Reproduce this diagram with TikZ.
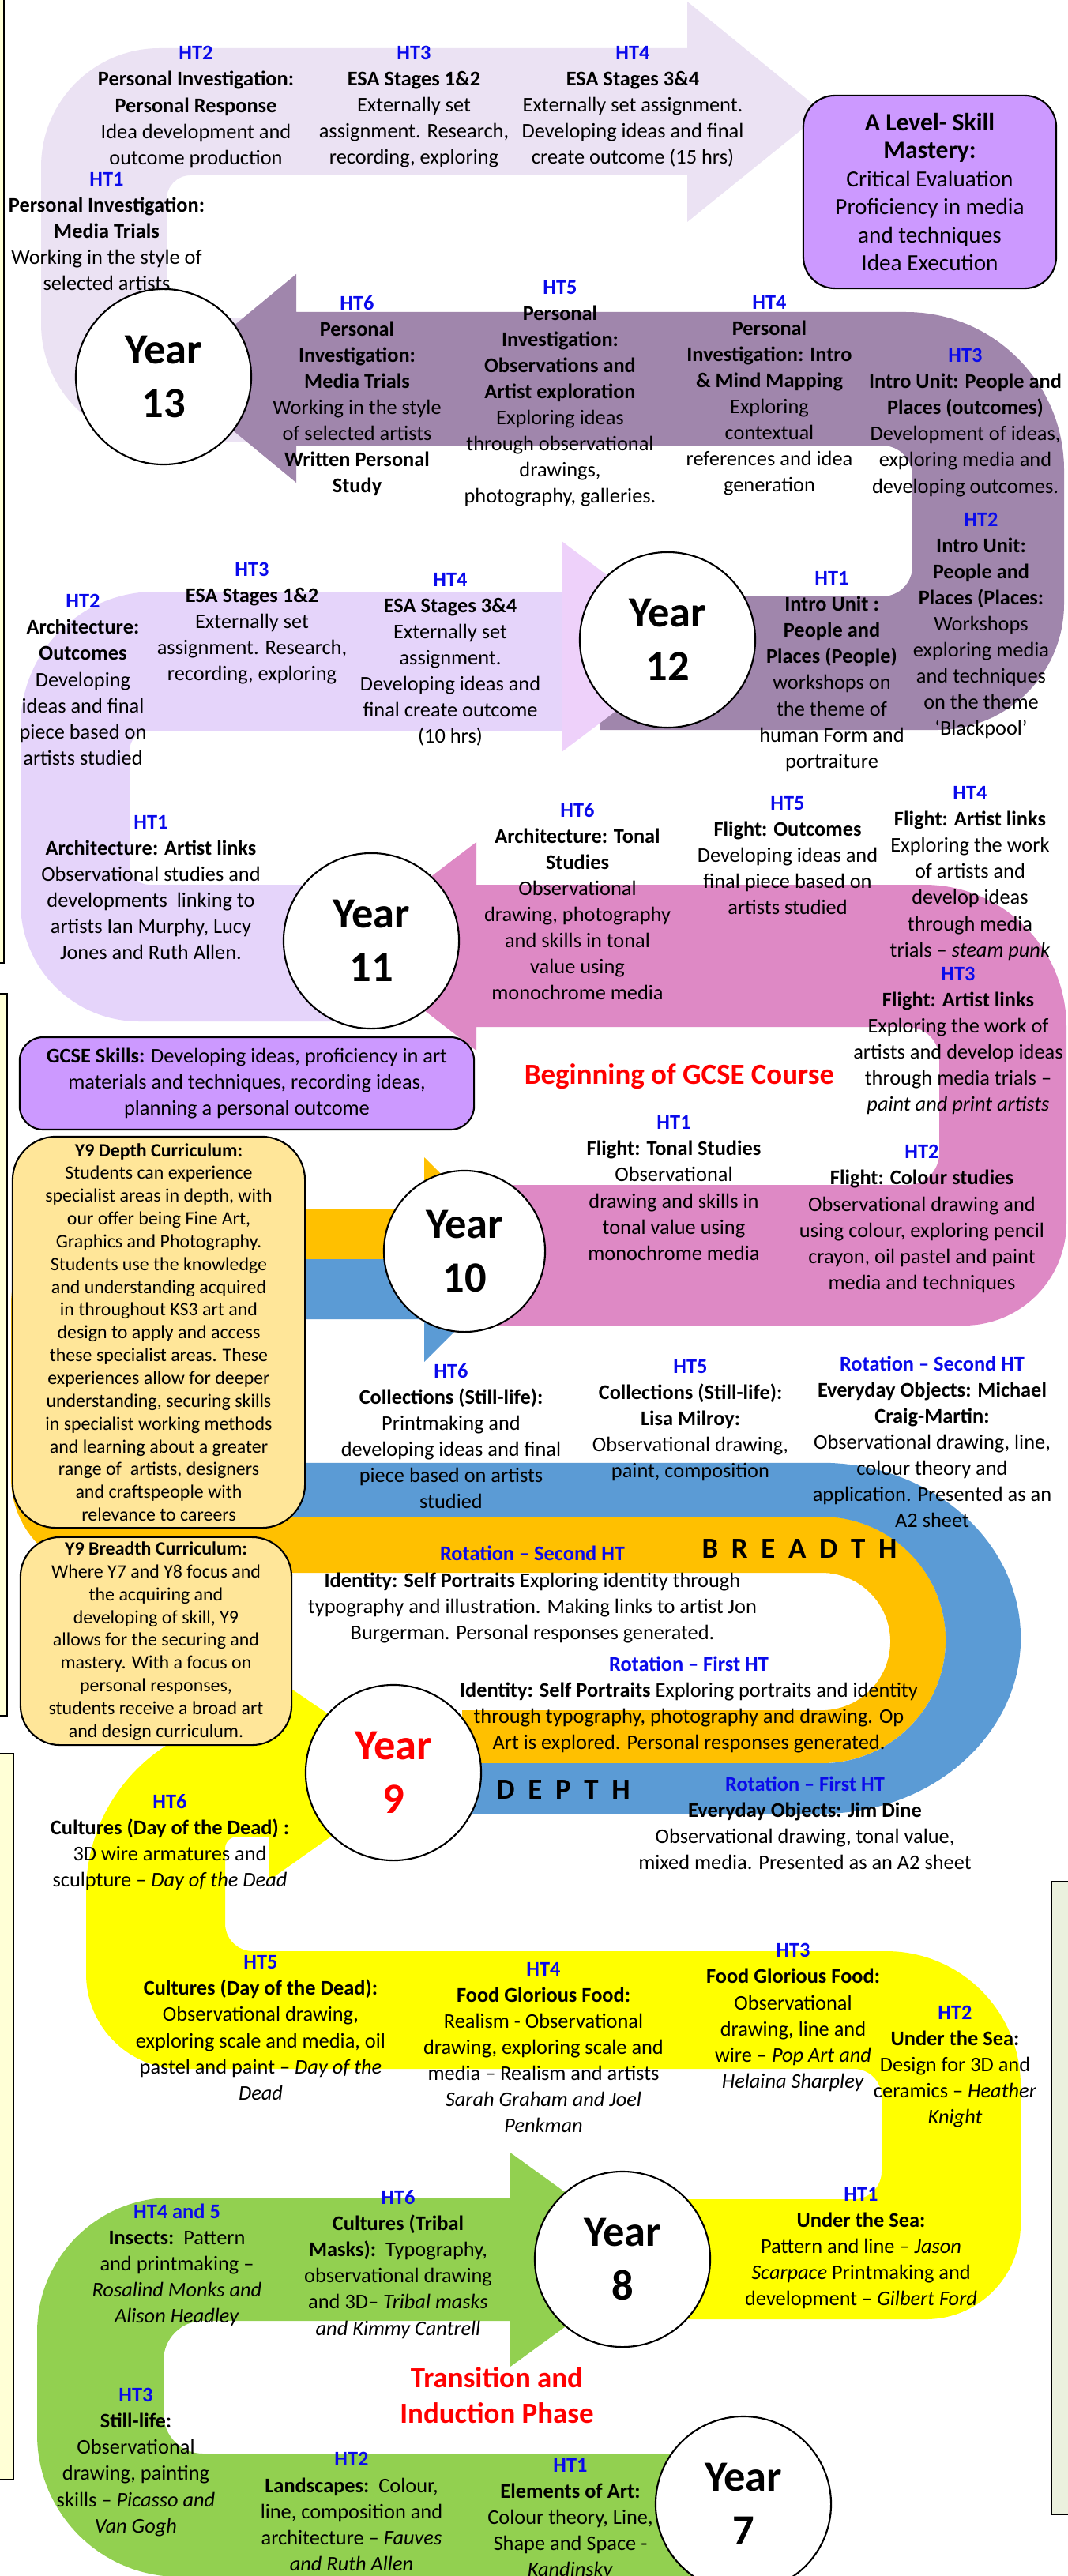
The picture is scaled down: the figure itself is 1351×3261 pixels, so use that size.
\documentclass[tikz,border=0pt]{standalone}
\usepackage{fontspec}
\setmainfont{Carlito}

\definecolor{band13}{RGB}{235,226,243}
\definecolor{band12}{RGB}{160,134,172}
\definecolor{band11}{RGB}{229,212,250}
\definecolor{head11}{RGB}{238,209,250}
\definecolor{band10}{RGB}{222,137,197}
\definecolor{breadthcol}{RGB}{255,192,0}
\definecolor{depthcol}{RGB}{91,155,213}
\definecolor{band8}{RGB}{255,255,0}
\definecolor{band7}{RGB}{146,208,80}
\definecolor{skill}{RGB}{204,153,255}
\definecolor{y9note}{RGB}{255,230,153}
\definecolor{htblue}{RGB}{10,10,235}
\definecolor{gcsered}{RGB}{255,0,0}
\definecolor{sidenote}{RGB}{255,255,214}
\definecolor{sidegreen}{RGB}{235,241,222}

\newcommand{\hterm}[1]{\textcolor{htblue}{\textbf{#1}}}
\newcommand{\boxtitle}[1]{\textbf{\fontsize{9}{10.6}\selectfont #1}}

\tikzset{
  halfterm/.style={align=center, inner sep=0pt, font=\fontsize{7.5}{9.4}\selectfont},
  yearcircle/.style={circle, draw, line width=0.6pt, fill=white, inner sep=0pt, minimum size=2.22cm, align=center, font=\fontsize{15.5}{19.3}\selectfont\bfseries},
  skillbox/.style={draw, line width=0.6pt, fill=skill, rounded corners=0.4cm, inner sep=0pt, align=center},
  notebox/.style={draw, line width=0.6pt, fill=y9note, rounded corners=0.55cm, inner sep=0pt, align=center, font=\fontsize{6.8}{8.2}\selectfont},
  redhead/.style={text=gcsered, align=center, inner sep=0pt, font=\fontsize{10.5}{13}\selectfont\bfseries},
  spaced/.style={inner sep=0pt, font=\fontsize{10.5}{12}\selectfont\bfseries},
  sidebox/.style={draw, line width=0.8pt}
}

\begin{document}
\begin{tikzpicture}[x=0.01cm, y=-0.01cm]
	\useasboundingbox (0,0) rectangle (1351,3261);
	\fill[white] (0,0) rectangle (1351,3261);
	% boxes of the neighbouring columns
	\draw[sidebox, fill=sidenote] (-30,-30) rectangle (5,1219);
	\draw[sidebox, fill=sidenote] (-30,1258) rectangle (9,2172);
	\draw[sidebox, fill=sidenote] (-30,2220) rectangle (17,3139);
	\draw[sidebox, fill=sidegreen] (1331,2382) rectangle (1380,3183);

	% Year 13
	\fill[band13] (400,560) [rounded corners=1.5cm] -- (52,560) -- (52,61) [sharp corners] -- (870,61) -- (870,2) -- (1042,142) -- (870,281) -- (870,222) [rounded corners=0.3cm] -- (211,222) -- (211,403) [sharp corners] -- (400,403) -- cycle;
	% Year 12
	\fill[band12] (760,924) [rounded corners=1.6cm] -- (1347,924) [rounded corners=2cm] -- (1347,395) [sharp corners] -- (375,395) -- (375,347) -- (215,479) -- (375,611) -- (375,564) [rounded corners=0.38cm] -- (1155,564) -- (1155,755) [sharp corners] -- (760,755) -- cycle;
	% Year 11
	\fill[band11] (470,1293) [rounded corners=1.5cm] -- (26,1293) [rounded corners=1.7cm] -- (26,749) [sharp corners] -- (711,749) -- (711,925) [rounded corners=0.25cm] -- (164,925) -- (164,1120) [sharp corners] -- (470,1120) -- cycle;
	\fill[head11] (711,685) -- (888,818) -- (711,952) -- cycle;
	% Year 10
	\fill[band10] (540,1678) [rounded corners=1.3cm] -- (1350,1678) [rounded corners=1.8cm] -- (1350,1120) [sharp corners] -- (603,1120) -- (603,1066) -- (431,1197) -- (603,1330) -- (603,1300) [rounded corners=0.4cm] -- (1189,1300) -- (1189,1500) [sharp corners] -- (540,1500) -- cycle;
	% Year 9, breadth and depth
	\fill[breadthcol] (537,1531) [rounded corners=1.2cm] -- (14,1531) -- (14,1991) [sharp corners] -- (1040,1991) arc[start angle=90, end angle=-90, x radius=0.87cm, y radius=0.87cm] -- (585,2165) -- (585,2232) -- (1040,2232) arc[start angle=-90, end angle=90, x radius=1.57cm, y radius=1.56cm] [rounded corners=0.5cm] -- (79,1920) -- (79,1594) [sharp corners] -- (537,1594) -- cycle;
	\fill[depthcol] (537,1594) [rounded corners=0.5cm] -- (79,1594) -- (79,1920) [sharp corners] -- (1040,1920) arc[start angle=90, end angle=-90, x radius=1.57cm, y radius=1.56cm] -- (585,2232) -- (585,2296) -- (1040,2296) arc[start angle=-90, end angle=90, x radius=2.52cm, y radius=2.22cm] [rounded corners=0.3cm] -- (154,1852) -- (154,1670) [sharp corners] -- (537,1670) -- cycle;
	\fill[breadthcol] (537,1465) -- (667,1594) -- (537,1594) -- cycle;
	\fill[depthcol] (537,1594) -- (667,1594) -- (537,1724) -- cycle;
	% Year 8
	\fill[band8] (788,2936) [rounded corners=1.2cm] -- (1292,2936) [rounded corners=1.7cm] -- (1292,2470) [rounded corners=0.35cm] -- (285,2470) [rounded corners=0.15cm] -- (285,2325) [sharp corners] -- (341,2325) -- (341,2380) -- (529,2247) -- (341,2119) -- (341,2175) [rounded corners=2.2cm] -- (109,2175) [rounded corners=1.2cm] -- (109,2619) [rounded corners=0.35cm] -- (1116,2619) -- (1116,2784) [sharp corners] -- (788,2784) -- cycle;
	% Year 7
	\fill[band7] (941,3106) [rounded corners=0.5cm] -- (207,3106) -- (207,2938) [sharp corners] -- (646,2938) -- (646,2996) -- (833,2860) -- (646,2725) -- (646,2782) [rounded corners=1.7cm] -- (47,2782) [rounded corners=1.8cm] -- (47,3262) [sharp corners] -- (941,3262) -- cycle;

	% skill boxes
	\node[skillbox, minimum width=3.2cm, minimum height=2.44cm, font=\fontsize{8.3}{10.1}\selectfont] (alevel) at (1177,243) {\boxtitle{A Level- Skill}\\\boxtitle{Mastery:}\\Critical Evaluation\\Proficiency in media\\and techniques\\Idea Execution};
	\node[skillbox, minimum width=5.75cm, minimum height=1.17cm, rounded corners=0.3cm, font=\fontsize{7.5}{9.4}\selectfont] (gcse) at (312.5,1371.5) {\textbf{GCSE Skills:} Developing ideas, proficiency in art\\materials and techniques, recording ideas,\\planning a personal outcome};
	\node[notebox, minimum width=3.7cm, minimum height=4.95cm] (depthnote) at (201,1686.5) {\textbf{Y9 Depth Curriculum:}\\Students can experience\\specialist areas in depth, with\\our offer being Fine Art,\\Graphics and Photography.\\Students use the knowledge\\and understanding acquired\\in throughout KS3 art and\\design to apply and access\\these specialist areas. These\\experiences allow for deeper\\understanding, securing skills\\in specialist working methods\\and learning about a greater\\range of\ \ artists, designers\\and craftspeople with\\relevance to careers};
	\node[notebox, minimum width=3.43cm, minimum height=2.63cm, rounded corners=0.5cm] (breadthnote) at (197.5,2077.5) {\textbf{Y9 Breadth Curriculum:}\\Where Y7 and Y8 focus and\\the acquiring and\\developing of skill, Y9\\allows for the securing and\\mastery. With a focus on\\personal responses,\\students receive a broad art\\and design curriculum.};

	% year circles
	\node[yearcircle] (year13) at (207,477) {Year\\13};
	\node[yearcircle] (year12) at (845,810) {Year\\12};
	\node[yearcircle] (year11) at (470,1191) {Year\\11};
	\node[yearcircle, minimum size=2.04cm] (year10) at (588,1584) {Year\\10};
	\node[yearcircle, text=gcsered] (year9) at (498,2244) {Year\\9};
	\node[yearcircle] (year8) at (788,2860) {Year\\8};
	\node[yearcircle] (year7) at (941,3170) {Year\\7};

	% Year 13 text
	\node[halfterm] (y13ht1) at (135,293) {\hterm{HT1}\\\textbf{Personal Investigation:}\\\textbf{Media Trials}\\Working in the style of\\selected artists};
	\node[halfterm] (y13ht2) at (248,135.5) {\hterm{HT2}\\\textbf{Personal Investigation:}\\\textbf{Personal Response}\\Idea development and\\outcome production};
	\node[halfterm] (y13ht3) at (524,135.5) {\hterm{HT3}\\\textbf{ESA Stages 1\&2}\\Externally set\\assignment. Research,\\recording, exploring};
	\node[halfterm] (y13ht4) at (801,135) {\hterm{HT4}\\\textbf{ESA Stages 3\&4}\\Externally set assignment.\\Developing ideas and final\\create outcome (15 hrs)};
	% Year 12 text
	\node[halfterm] (y12ht1) at (1053,850) {\hterm{HT1}\\\textbf{Intro Unit :}\\\textbf{People and}\\\textbf{Places (People)}\\workshops on\\the theme of\\human Form and\\portraiture};
	\node[halfterm] (y12ht2) at (1242,792) {\hterm{HT2}\\\textbf{Intro Unit:}\\\textbf{People and}\\\textbf{Places (Places:}\\Workshops\\exploring media\\and techniques\\on the theme\\‘Blackpool’};
	\node[halfterm] (y12ht3) at (1222,535) {\hterm{HT3}\\\textbf{Intro Unit: People and}\\\textbf{Places (outcomes)}\\Development of ideas,\\exploring media and\\developing outcomes.};
	\node[halfterm] (y12ht4) at (974,501) {\hterm{HT4}\\\textbf{Personal}\\\textbf{Investigation: Intro}\\\textbf{\& Mind Mapping}\\Exploring\\contextual\\references and idea\\generation};
	\node[halfterm] (y12ht5) at (709,498) {\hterm{HT5}\\\textbf{Personal}\\\textbf{Investigation:}\\\textbf{Observations and}\\\textbf{Artist exploration}\\Exploring ideas\\through observational\\drawings,\\photography, galleries.};
	\node[halfterm] (y12ht6) at (452,501) {\hterm{HT6}\\\textbf{Personal}\\\textbf{Investigation:}\\\textbf{Media Trials}\\Working in the style\\of selected artists\\\textbf{Written Personal}\\\textbf{Study}};
	% Year 11 text
	\node[halfterm] (y11ht1) at (191,1123.5) {\hterm{HT1}\\\textbf{Architecture: Artist links}\\Observational studies and\\developments\ \ linking to\\artists Ian Murphy, Lucy\\Jones and Ruth Allen.};
	\node[halfterm] (y11ht2) at (105,860.5) {\hterm{HT2}\\\textbf{Architecture:}\\\textbf{Outcomes}\\Developing\\ideas and final\\piece based on\\artists studied};
	\node[halfterm] (y11ht3) at (319,789.5) {\hterm{HT3}\\\textbf{ESA Stages 1\&2}\\Externally set\\assignment. Research,\\recording, exploring};
	\node[halfterm] (y11ht4) at (570,834.5) {\hterm{HT4}\\\textbf{ESA Stages 3\&4}\\Externally set\\assignment.\\Developing ideas and\\final create outcome\\(10 hrs)};
	% Year 10 text
	\node[halfterm] (y10ht1) at (853,1504) {\hterm{HT1}\\\textbf{Flight: Tonal Studies}\\Observational\\drawing and skills in\\tonal value using\\monochrome media};
	\node[halfterm] (y10ht2) at (1167,1543) {\hterm{HT2}\\\textbf{Flight: Colour studies}\\Observational drawing and\\using colour, exploring pencil\\crayon, oil pastel and paint\\media and techniques};
	\node[halfterm] (y10ht3) at (1213,1317.5) {\hterm{HT3}\\\textbf{Flight: Artist links}\\Exploring the work of\\artists and develop ideas\\through media trials –\\\textit{paint and print artists}};
	\node[halfterm] (y10ht4) at (1228,1105.5) {\hterm{HT4}\\\textbf{Flight: Artist links}\\Exploring the work\\of artists and\\develop ideas\\through media\\trials – \textit{steam punk}};
	\node[halfterm] (y10ht5) at (997,1083) {\hterm{HT5}\\\textbf{Flight: Outcomes}\\Developing ideas and\\final piece based on\\artists studied};
	\node[halfterm] (y10ht6) at (731,1141) {\hterm{HT6}\\\textbf{Architecture: Tonal}\\\textbf{Studies}\\Observational\\drawing, photography\\and skills in tonal\\value using\\monochrome media};
	\node[redhead] (gcsestart) at (860,1363) {Beginning of GCSE Course};
	% Year 9 text
	\node[halfterm] (y9ht6) at (571,1818) {\hterm{HT6}\\\textbf{Collections (Still-life):}\\Printmaking and\\developing ideas and final\\piece based on artists\\studied};
	\node[halfterm] (y9ht5) at (874,1798) {\hterm{HT5}\\\textbf{Collections (Still-life):}\\\textbf{Lisa Milroy:}\\Observational drawing,\\paint, composition};
	\node[halfterm] (y9depth2) at (1180,1825) {\hterm{Rotation – Second HT}\\\textbf{Everyday Objects: Michael}\\\textbf{Craig-Martin:}\\Observational drawing, line,\\colour theory and\\application. Presented as an\\A2 sheet};
	\node[spaced] (breadthlabel) at (1012,1961) {B\ \ R\ \ E\ \ A\ \ D\ \ T\ \ H};
	\node[halfterm] (y9breadth2) at (674,2018.5) {\hterm{Rotation – Second HT}\\\textbf{Identity: Self Portraits} Exploring identity through\\typography and illustration. Making links to artist Jon\\Burgerman. Personal responses generated.};
	\node[halfterm] (y9breadth1) at (872,2158) {\hterm{Rotation – First HT}\\\textbf{Identity: Self Portraits} Exploring portraits and identity\\through typography, photography and drawing. Op\\Art is explored. Personal responses generated.};
	\node[spaced] (depthlabel) at (713,2266) {D\ \ E\ \ P\ \ T\ \ H};
	\node[halfterm] (y9depth1) at (1019,2307.5) {\hterm{Rotation – First HT}\\\textbf{Everyday Objects: Jim Dine}\\Observational drawing, tonal value,\\mixed media. Presented as an A2 sheet};
	% Year 8 text
	\node[halfterm] (y8ht1) at (1090,2846) {\hterm{HT1}\\\textbf{Under the Sea:}\\Pattern and line – \textit{Jason}\\\textit{Scarpace} Printmaking and\\development – \textit{Gilbert Ford}};
	\node[halfterm] (y8ht2) at (1209,2616) {\hterm{HT2}\\\textbf{Under the Sea:}\\Design for 3D and\\ceramics – \textit{Heather}\\\textit{Knight}};
	\node[halfterm] (y8ht3) at (1004,2554) {\hterm{HT3}\\\textbf{Food Glorious Food:}\\Observational\\drawing, line and\\wire – \textit{Pop Art and}\\\textit{Helaina Sharpley}};
	\node[halfterm] (y8ht4) at (688,2592) {\hterm{HT4}\\\textbf{Food Glorious Food:}\\Realism - Observational\\drawing, exploring scale and\\media – Realism and artists\\\textit{Sarah Graham and Joel}\\\textit{Penkman}};
	\node[halfterm] (y8ht5) at (330,2567) {\hterm{HT5}\\\textbf{Cultures (Day of the Dead):}\\Observational drawing,\\exploring scale and media, oil\\pastel and paint – \textit{Day of the}\\\textit{Dead}};
	\node[halfterm] (y8ht6) at (215,2332.5) {\hterm{HT6}\\\textbf{Cultures (Day of the Dead) :}\\3D wire armatures and\\sculpture – \textit{Day of the Dead}};
	% Year 7 text
	\node[halfterm] (y7ht1) at (722,3189) {\hterm{HT1}\\\textbf{Elements of Art:}\\Colour theory, Line,\\Shape and Space -\\\textit{Kandinsky}};
	\node[halfterm] (y7ht2) at (445,3179.5) {\hterm{HT2}\\\textbf{Landscapes:}\ \ Colour,\\line, composition and\\architecture – \textit{Fauves}\\\textit{and Ruth Allen}};
	\node[halfterm] (y7ht3) at (172,3117) {\hterm{HT3}\\\textbf{Still-life:}\\Observational\\drawing, painting\\skills – \textit{Picasso and}\\\textit{Van Gogh}};
	\node[halfterm] (y7ht45) at (224,2867.5) {\hterm{HT4 and 5}\\\textbf{Insects:}\ \ Pattern\\and printmaking –\\\textit{Rosalind Monks and}\\\textit{Alison Headley}};
	\node[halfterm] (y7ht6) at (504,2866.5) {\hterm{HT6}\\\textbf{Cultures (Tribal}\\\textbf{Masks):}\ \ Typography,\\observational drawing\\and 3D– \textit{Tribal masks}\\\textit{and Kimmy Cantrell}};
	\node[redhead] (transition) at (629,3032) {Transition and\\Induction Phase};
\end{tikzpicture}
\end{document}
